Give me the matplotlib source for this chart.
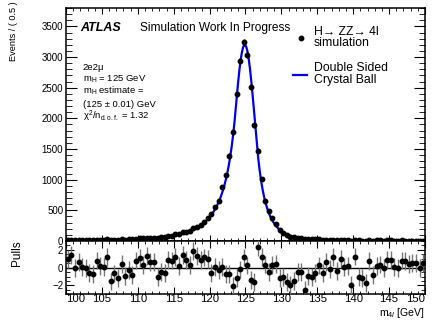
import numpy as np
import matplotlib.pyplot as plt
from matplotlib.ticker import MultipleLocator

plt.rcParams['font.family'] = ['Liberation Sans', 'DejaVu Sans']
plt.rcParams['mathtext.fontset'] = 'custom'
plt.rcParams['mathtext.rm'] = 'Liberation Sans'
plt.rcParams['mathtext.it'] = 'Liberation Sans:italic'

# m4l bins, 0.5 GeV wide, 100 - 150 GeV
bin_centres = np.arange(100.25, 150.0, 0.5)

# events per bin
counts = [13, 15, 11, 13, 12, 12, 12, 12, 19, 17,
          19, 25, 14, 18, 17, 27, 22, 27, 25, 37,
          44, 42, 52, 51, 54, 48, 57, 60, 80, 83,
          112, 113, 140, 150, 160, 215, 230, 260, 310, 380,
          447, 560, 650, 874, 1077, 1393, 1770, 2393, 2934, 3242,
          3038, 2508, 1885, 1475, 1011, 656, 481, 367, 273, 185,
          126, 93, 66, 60, 52, 44, 30, 33, 26, 25,
          24, 19, 19, 16, 17, 13, 14, 12, 11, 7,
          12, 8, 7, 6, 9, 7, 8, 8, 7, 8,
          8, 7, 7, 8, 7, 7, 7, 7, 6, 7]

# (data - fit) / error per bin
pulls = [0.96, 1.4, 0.0, 0.6, 0.1, 0.0, -0.6, -0.7, 0.8, 0.15,
         0.1, 1.2, -1.55, -0.65, -1.2, 0.4, -0.9, -0.25, -0.85, 0.8,
         1.05, 0.3, 1.35, 0.6, 0.6, -1.05, -0.5, -0.6, 0.9, 0.8,
         1.2, 0.2, 1.4, 0.9, 0.3, 1.9, 1.3, 0.9, 1.15, 0.95,
         -0.6, 0.05, -0.3, 0.07, -0.7, -0.75, -2.1, -1.2, -0.2, 1.15,
         0.25, -1.4, -1.6, 2.3, 1.2, 0.35, -0.45, 0.3, 0.45, -1.2,
         -1.05, -1.6, -1.95, -1.5, -0.5, -0.5, -2.45, -0.9, -1.05, -0.6,
         0.25, -0.6, 0.6, -0.15, 1.2, -0.35, 0.95, 0.1, 0.15, -1.9,
         1.25, -1.05, -1.2, -1.7, 0.75, -0.85, 0.15, 0.35, 0.0, 0.85,
         0.9, 0.05, 0.0, 0.8, 0.75, 0.45, 0.5, 0.55, 0.0, 0.55]

# double sided crystal ball fit parameters
dscb_norm = 3200.0
dscb_mean = 124.9
dscb_sigma = 1.42
alpha_lo, n_lo = 0.9, 3.0
alpha_hi, n_hi = 1.2, 5.0


def dscb(x):
    t = (x - dscb_mean) / dscb_sigma
    y = np.exp(-0.5 * t**2)
    lo = t < -alpha_lo
    hi = t > alpha_hi
    y[lo] = np.exp(-0.5 * alpha_lo**2) * (1 + alpha_lo / n_lo * (-t[lo] - alpha_lo)) ** (-n_lo)
    y[hi] = np.exp(-0.5 * alpha_hi**2) * (1 + alpha_hi / n_hi * (t[hi] - alpha_hi)) ** (-n_hi)
    return dscb_norm * y


counts = np.array(counts, dtype=float)
pulls = np.array(pulls)
xfit = np.linspace(100, 150, 1000)
blue = '#0000f0'

fig = plt.figure(figsize=(4.37, 3.2), dpi=100)
ax = fig.add_axes([0.151, 0.247, 0.8215, 0.728])
axp = fig.add_axes([0.151, 0.08, 0.8215, 0.167])

# upper pad: data and fit
ax.plot(xfit, dscb(xfit), color=blue, lw=1.6, zorder=2)
ax.errorbar(bin_centres, counts, yerr=np.sqrt(counts), fmt='o', color='black',
            ms=3.2, elinewidth=0.9, capsize=0, zorder=3)
ax.set_xlim(100, 150)
ax.set_ylim(0, 3800)
ax.yaxis.set_major_locator(MultipleLocator(500))
ax.yaxis.set_minor_locator(MultipleLocator(100))
ax.xaxis.set_major_locator(MultipleLocator(5))
ax.xaxis.set_minor_locator(MultipleLocator(1))
ax.tick_params(which='both', direction='in', top=True, right=True, labelsize=7, pad=2)
ax.tick_params(axis='y', which='major', length=8)
ax.tick_params(axis='y', which='minor', length=4)
ax.tick_params(axis='x', which='major', length=4)
ax.tick_params(axis='x', which='minor', length=2)
ax.tick_params(axis='x', labelbottom=False)

# lower pad: pulls
axp.errorbar(bin_centres, pulls, yerr=np.ones_like(pulls), fmt='o', color='black',
             ecolor='#777777', ms=3.2, elinewidth=1.0, capsize=0, zorder=3)
axp.axhline(0, color='black', lw=1.0, zorder=2)
axp.set_xlim(100, 150)
axp.set_ylim(-3, 3)
axp.set_xticks(np.arange(100, 151, 5))
axp.yaxis.set_major_locator(MultipleLocator(2))
axp.yaxis.set_minor_locator(MultipleLocator(0.5))
axp.xaxis.set_minor_locator(MultipleLocator(1))
axp.tick_params(which='both', direction='in', top=True, right=True)
axp.tick_params(axis='y', which='major', length=6, labelsize=7, pad=2)
axp.tick_params(axis='y', which='minor', length=3)
axp.tick_params(axis='x', which='major', length=5, labelsize=8.2, pad=0)
axp.tick_params(axis='x', which='minor', length=2.5)
xlabels = axp.get_xticklabels()
xlabels[0].set_ha('left')
xlabels[-1].set_ha('right')

for a in (ax, axp):
    for s in a.spines.values():
        s.set_linewidth(1.1)

fig.text(0.03, 0.995, 'Events / ( 0.5 )', rotation=90, ha='center', va='top', fontsize=6.6)
fig.text(0.040, 0.21, 'Pulls', rotation=90, ha='center', va='center', fontsize=8.5)
fig.text(0.9725, 0.0, r'm$_{4l}$ [GeV]', ha='right', va='bottom', fontsize=7.6)

ax.text(0.039, 0.914, 'ATLAS', transform=ax.transAxes, fontsize=9,
        fontweight='bold', fontstyle='italic', va='center')
ax.text(0.206, 0.914, 'Simulation Work In Progress', transform=ax.transAxes,
        fontsize=8.6, va='center')

info = ['2e2μ', r'm$_{\rm H}$ = 125 GeV', r'm$_{\rm H}$ estimate =',
        '(125 ± 0.01) GeV', r'χ$^{2}$/n$_{\rm d.o.f.}$ = 1.32']
info_y = [0.745, 0.694, 0.645, 0.584, 0.534]
for line, yy in zip(info, info_y):
    ax.text(0.047, yy, line, transform=ax.transAxes, fontsize=6.8, va='center')

# legend
ax.plot([0.654], [0.871], 'o', color='black', ms=3.2, transform=ax.transAxes)
ax.text(0.691, 0.897, 'H→ ZZ→ 4l', transform=ax.transAxes, fontsize=8.8, va='center')
ax.text(0.691, 0.850, 'simulation', transform=ax.transAxes, fontsize=8.8, va='center')
ax.plot([0.631, 0.671], [0.712, 0.712], color=blue, lw=1.6, transform=ax.transAxes)
ax.text(0.691, 0.742, 'Double Sided', transform=ax.transAxes, fontsize=8.8, va='center')
ax.text(0.691, 0.691, 'Crystal Ball', transform=ax.transAxes, fontsize=8.8, va='center')

fig.savefig('out.png', dpi=100)
